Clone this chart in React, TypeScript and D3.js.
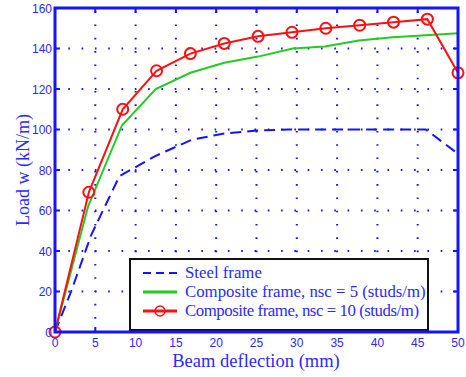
import React from "react";
import * as d3 from "d3";

// deflection (mm), load (kN/m)
const steelX = [0, 2, 4.5, 8, 12.5, 17, 21, 25, 29, 34, 38, 42, 46, 50];
const steelY = [0, 20, 48, 77, 87, 95, 98, 99.5, 100, 100, 100, 100, 100, 88];
const nsc5X = [0, 4.1, 8.3, 12.5, 16.8, 21, 25.2, 29.5, 33.5, 37.7, 41.9, 46, 50];
const nsc5Y = [0, 62, 102, 120, 128, 133, 136, 140, 141, 144, 145.5, 146.5, 147.5];
const nsc10X = [0, 4.2, 8.4, 12.6, 16.8, 21, 25.2, 29.4, 33.6, 37.8, 42, 46.2, 50];
const nsc10Y = [0, 69, 110, 129, 137.5, 142.5, 146, 148, 150, 151.5, 153, 154.5, 128];

const xTicks = [0, 5, 10, 15, 20, 25, 30, 35, 40, 45, 50];
const yTicks = [0, 20, 40, 60, 80, 100, 120, 140, 160];

const legendLabels = [
  "Steel frame",
  "Composite frame, nsc = 5 (studs/m)",
  "Composite frame, nsc = 10 (studs/m)",
];

const BLUE = "#1414ff";
const TEXTBLUE = "#2a2aff";
const GREEN = "#22cc22";
const RED = "#ff1010";

export default function App() {
  const W = 466,
    H = 377;
  const left = 55,
    right = 458,
    top = 8,
    bottom = 332;

  const x = d3.scaleLinear().domain([0, 50]).range([left, right]);
  const y = d3.scaleLinear().domain([0, 160]).range([bottom, top]);

  const line = d3
    .line<[number, number]>()
    .x((d) => x(d[0]))
    .y((d) => y(d[1]));

  const zip = (a: number[], b: number[]) =>
    a.map((v, i) => [v, b[i]] as [number, number]);

  const steel = zip(steelX, steelY);
  const c5 = zip(nsc5X, nsc5Y);
  const c10 = zip(nsc10X, nsc10Y);

  const tickFont = "'Liberation Sans', Arial, sans-serif";
  const serif = "'Liberation Serif', 'Times New Roman', serif";

  const lg = { x0: 130, y0: 259, x1: 428, y1: 330 };
  const rowY = [273, 292, 311];

  return (
    <svg
      width={W}
      height={H}
      style={{ position: "absolute", left: 0, top: 0, background: "#fff" }}
    >
      {/* grid */}
      <g stroke={BLUE} strokeWidth={2} strokeDasharray="1.6,11.7">
        {xTicks.slice(1, -1).map((t) => (
          <line key={"gx" + t} x1={x(t)} x2={x(t)} y1={bottom} y2={top} />
        ))}
        {yTicks.slice(1, -1).map((t) => (
          <line key={"gy" + t} x1={left} x2={right} y1={y(t)} y2={y(t)} />
        ))}
      </g>

      {/* series */}
      <path
        d={line(steel) || ""}
        fill="none"
        stroke={BLUE}
        strokeWidth={2}
        strokeDasharray="11,6"
      />
      <path d={line(c5) || ""} fill="none" stroke={GREEN} strokeWidth={2} />
      <path d={line(c10) || ""} fill="none" stroke={RED} strokeWidth={2} />
      {c10.map((d, i) => (
        <circle
          key={i}
          cx={x(d[0])}
          cy={y(d[1])}
          r={5.5}
          fill="none"
          stroke={RED}
          strokeWidth={2}
        />
      ))}

      {/* ticks */}
      <g stroke={BLUE} strokeWidth={2}>
        {xTicks.map((t) => (
          <g key={"tx" + t}>
            <line x1={x(t)} x2={x(t)} y1={bottom} y2={bottom - 5} />
            <line x1={x(t)} x2={x(t)} y1={top} y2={top + 5} />
          </g>
        ))}
        {yTicks.map((t) => (
          <g key={"ty" + t}>
            <line x1={left} x2={left + 5} y1={y(t)} y2={y(t)} />
            <line x1={right} x2={right - 5} y1={y(t)} y2={y(t)} />
          </g>
        ))}
      </g>

      {/* legend */}
      <rect
        x={lg.x0}
        y={lg.y0}
        width={lg.x1 - lg.x0}
        height={lg.y1 - lg.y0}
        fill="#fff"
        stroke="#111"
        strokeWidth={2}
      />
      <line
        x1={143}
        x2={177}
        y1={rowY[0]}
        y2={rowY[0]}
        stroke={BLUE}
        strokeWidth={2}
        strokeDasharray="8,5"
      />
      <line x1={143} x2={177} y1={rowY[1]} y2={rowY[1]} stroke={GREEN} strokeWidth={3} />
      <line x1={143} x2={177} y1={rowY[2]} y2={rowY[2]} stroke={RED} strokeWidth={3} />
      <circle cx={160} cy={rowY[2]} r={5} fill="none" stroke={RED} strokeWidth={1.5} />
      {legendLabels.map((s, i) => (
        <text
          key={s}
          x={185}
          y={rowY[i] + 5}
          fill={TEXTBLUE}
          fontFamily={serif}
          fontSize={16.8}
          textLength={i === 2 ? 234 : undefined}
          lengthAdjust={i === 2 ? "spacing" : undefined}
        >
          {s}
        </text>
      ))}

      {/* axes box */}
      <rect
        x={left}
        y={top}
        width={right - left}
        height={bottom - top}
        fill="none"
        stroke={BLUE}
        strokeWidth={3}
      />

      {/* tick labels */}
      {xTicks.map((t) => (
        <text
          key={"lx" + t}
          x={x(t)}
          y={347}
          textAnchor="middle"
          fill={TEXTBLUE}
          fontFamily={tickFont}
          fontSize={12}
        >
          {t}
        </text>
      ))}
      {yTicks.map((t) => (
        <text
          key={"ly" + t}
          x={52}
          y={y(t) + 4.5}
          textAnchor="end"
          fill={TEXTBLUE}
          fontFamily={tickFont}
          fontSize={12}
        >
          {t}
        </text>
      ))}

      {/* axis labels */}
      <text
        x={256}
        y={367}
        textAnchor="middle"
        fill={TEXTBLUE}
        fontFamily={serif}
        fontSize={18.5}
      >
        Beam deflection (mm)
      </text>
      <text
        transform={`translate(29,${(top + bottom) / 2}) rotate(-90)`}
        textAnchor="middle"
        fill={TEXTBLUE}
        fontFamily={serif}
        fontSize={18}
      >
        Load w (kN/m)
      </text>
    </svg>
  );
}
